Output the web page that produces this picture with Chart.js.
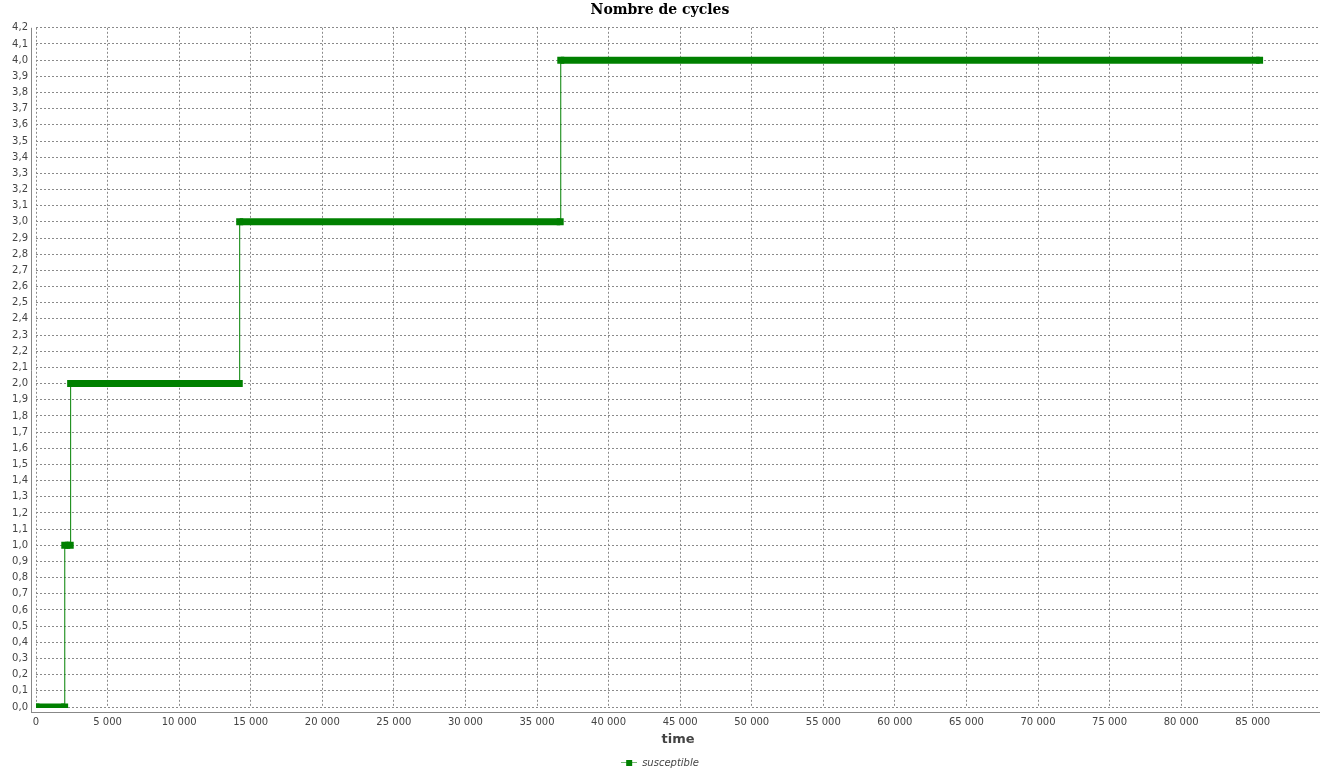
<!DOCTYPE html>
<html>
<head>
<meta charset="utf-8">
<script src="https://cdn.jsdelivr.net/npm/chart.js@4/dist/chart.umd.min.js"></script>
<style>
  html, body { margin: 0; padding: 0; background: #fff; }
  #wrap { width: 1335px; height: 774px; }
</style>
</head>
<body>
<div id="wrap"><canvas id="myChart" width="1335" height="774"></canvas></div>
<script>
// step points (time, cycles)
const times = [0, 2000, 2010, 2390, 2420, 14200, 14230, 36620, 36660, 85480]
const cycles = [0, 0, 1, 1, 2, 2, 3, 3, 4, 4]

const xTicks = [0, 5000, 10000, 15000, 20000, 25000, 30000, 35000, 40000, 45000,
    50000, 55000, 60000, 65000, 70000, 75000, 80000, 85000]
const yTicks = [0, 0.1, 0.2, 0.3, 0.4, 0.5, 0.6, 0.7, 0.8, 0.9, 1, 1.1, 1.2, 1.3, 1.4,
    1.5, 1.6, 1.7, 1.8, 1.9, 2, 2.1, 2.2, 2.3, 2.4, 2.5, 2.6, 2.7, 2.8, 2.9, 3, 3.1,
    3.2, 3.3, 3.4, 3.5, 3.6, 3.7, 3.8, 3.9, 4, 4.1, 4.2]

const green = '#008000'
const gridColor = '#8a8a8a'
const textColor = '#444444'

Chart.defaults.font.family = "'DejaVu Sans', sans-serif"
Chart.defaults.color = textColor

// legend icon: short line with a square on it
const icon = document.createElement('canvas')
icon.width = 16
icon.height = 8
const ic = icon.getContext('2d')
ic.fillStyle = 'rgba(0,128,0,0.55)'
ic.fillRect(0, 3, 16, 1)
ic.fillStyle = green
ic.fillRect(5, 1, 6, 6)

const frThousands = v => String(v).replace(/\B(?=(\d{3})+(?!\d))/g, ' ')

// JFreeChart-like axis lines drawn a few pixels outside the plot area
const axisLines = {
    id: 'axisLines',
    afterInit(chart) {
        // keep the legend strip a fixed height
        const lg = chart.legend
        if (lg) {
            const fit = lg.fit.bind(lg)
            lg.fit = function () { fit(); this.height = 26 }
        }
    },
    afterDraw(chart) {
        const {ctx, chartArea: a} = chart
        ctx.save()
        ctx.strokeStyle = '#888888'
        ctx.lineWidth = 1
        ctx.beginPath()
        ctx.moveTo(a.left - 4.5, a.top)
        ctx.lineTo(a.left - 4.5, a.bottom + 6)
        ctx.moveTo(a.left - 4, a.bottom + 5.5)
        ctx.lineTo(a.right, a.bottom + 5.5)
        ctx.stroke()
        ctx.restore()
    }
}

const data = {
    datasets: [
        {
            label: 'susceptible',
            data: times.map((t, i) => ({x: t, y: cycles[i]})),
            borderColor: green,
            backgroundColor: green,
            borderWidth: 1,
            borderCapStyle: 'butt',
            pointStyle: 'rect',
            pointRadius: 4.95,
            pointBorderWidth: 0,
            pointHoverRadius: 4.95,
            tension: 0,
            clip: { left: 0, top: 8, right: 8, bottom: 1 },
            segment: {
                borderWidth: ctx => ctx.p0.parsed.y === ctx.p1.parsed.y ? 7 : 1
            }
        }
    ]
}

const config = {
    type: 'line',
    data: data,
    plugins: [axisLines],
    options: {
        responsive: false,
        animation: false,
        layout: { padding: { left: 0, right: 15, top: 0, bottom: 0 } },
        plugins: {
            title: {
                display: true,
                text: 'Nombre de cycles',
                color: '#000',
                font: { family: "'DejaVu Serif', serif", size: 14, weight: 'bold' },
                padding: { top: 2, bottom: 9 }
            },
            legend: {
                position: 'bottom',
                labels: {
                    usePointStyle: true,
                    pointStyle: icon,
                    pointStyleWidth: 16,
                    color: textColor,
                    font: { size: 10, style: 'italic' },
                    padding: 10,
                    generateLabels: chart => [{
                        text: 'susceptible',
                        pointStyle: icon,
                        fontColor: textColor,
                        lineWidth: 0,
                        datasetIndex: 0
                    }]
                }
            },
            tooltip: { enabled: false }
        },
        scales: {
            x: {
                type: 'linear',
                min: 0,
                max: 89700,
                afterBuildTicks: s => { s.ticks = xTicks.map(v => ({value: v})) },
                afterFit: s => { s.height = 41 },
                ticks: {
                    font: { size: 10 },
                    color: textColor,
                    padding: 9,
                    maxRotation: 0,
                    autoSkip: false,
                    callback: v => frThousands(v)
                },
                grid: {
                    color: gridColor,
                    lineWidth: 1,
                    drawTicks: false
                },
                border: { display: false, dash: [2, 2] },
                title: {
                    display: true,
                    text: 'time',
                    color: textColor,
                    font: { size: 13, weight: 'bold' },
                    padding: { top: 2, bottom: 1 }
                }
            },
            y: {
                type: 'linear',
                min: 0,
                max: 4.2,
                afterBuildTicks: s => { s.ticks = yTicks.map(v => ({value: v})) },
                afterFit: s => { s.width = 36 },
                ticks: {
                    font: { size: 10 },
                    color: textColor,
                    padding: 8,
                    autoSkip: false,
                    callback: v => v.toFixed(1).replace('.', ',')
                },
                grid: {
                    color: gridColor,
                    lineWidth: 1,
                    drawTicks: false
                },
                border: { display: false, dash: [2, 2] }
            }
        }
    }
}

const ctx = document.getElementById('myChart').getContext('2d')
const chart = new Chart(ctx, config)
</script>
</body>
</html>
